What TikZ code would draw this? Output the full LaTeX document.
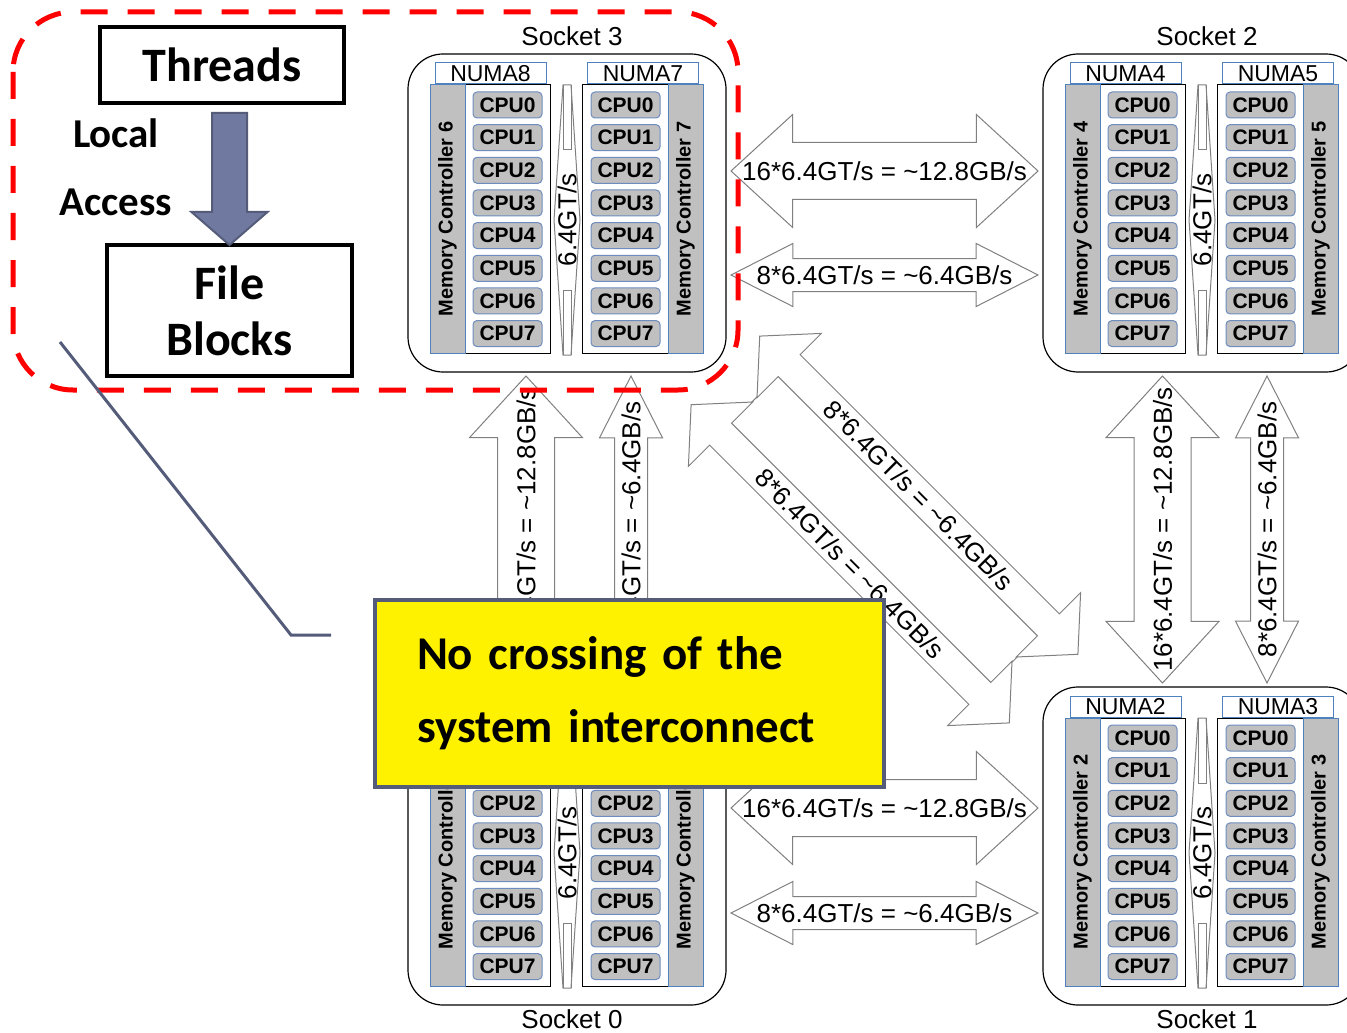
\documentclass[tikz,border=0pt]{standalone}
\usepackage{fontspec}
\setmainfont{Liberation Sans}
\newfontfamily\calibri{Carlito}
\usetikzlibrary{shapes.arrows,calc,positioning}

\definecolor{mcblue}{RGB}{79,129,189}
\definecolor{cpuedge}{RGB}{110,140,190}
\definecolor{boxgray}{RGB}{192,192,192}
\definecolor{linkgray}{RGB}{128,128,128}
\definecolor{slate}{RGB}{84,92,122}
\definecolor{slatefill}{RGB}{112,121,160}

\newcommand{\linkfont}{\fontsize{13}{13}\selectfont}

% one socket: two NUMA halves, each with a memory controller strip and 8 CPUs
% #1 name, #2 top left corner, #3 #4 NUMA labels, #5 #6 memory controller numbers
\newcommand{\drawsocket}[6]{%
  \begin{scope}[shift={#2}]
    \node[socketbox] (#1) at (159,159) {};
    % left half
    \node[halfbox] (#1-left) at (82,165) {};
    \node[numabox] (#1-numal) at (82.5,19.5) {#3};
    \node[mcstrip] (#1-mcl) at (39.5,165) {Memory Controller #5};
    \foreach \k in {0,...,7}
      \node[cpubox] (#1-l\k) at (99.5,{51+32.65*\k}) {CPU\k};
    % right half
    \node[halfbox] (#1-right) at (234.5,165) {};
    \node[numabox] (#1-numar) at (235,19.5) {#4};
    \node[mcstrip] (#1-mcr) at (277.5,165) {Memory Controller #6};
    \foreach \k in {0,...,7}
      \node[cpubox] (#1-r\k) at (217.5,{51+32.65*\k}) {CPU\k};
    % link between the two halves
    \draw[linkline, fill=white] (155,31) -- (146,166) -- (155,301) -- (163,301) -- (172,166) -- (163,31) -- cycle;
    \draw[linkline] (155,31) -- (155,96) -- (163,96) -- (163,31);
    \draw[linkline] (155,301) -- (155,236) -- (163,236) -- (163,301);
    \node[rotate=90, font=\linkfont, inner sep=0pt] (#1-qpi) at (159,166) {6.4GT/s};
  \end{scope}
}

\begin{document}
\begin{tikzpicture}[
    x=0.5pt, y=-0.5pt,
    socketbox/.style={draw, line width=0.6pt, rounded corners=17.5pt, minimum width=159pt, minimum height=159pt, inner sep=0pt},
    halfbox/.style={draw, line width=0.5pt, fill=white, minimum width=60pt, minimum height=134pt, inner sep=0pt},
    numabox/.style={draw=mcblue, line width=0.5pt, fill=white, minimum width=55.5pt, minimum height=10.5pt, inner sep=0pt, font=\fontsize{11.5}{11.5}\selectfont},
    mcstrip/.style={draw=mcblue, line width=0.5pt, fill=boxgray, rotate=90, minimum width=134pt, minimum height=17.5pt, inner sep=0pt, font=\bfseries\fontsize{10}{10}\selectfont},
    cpubox/.style={draw=cpuedge, line width=0.5pt, fill=boxgray, rounded corners=2pt, minimum width=34.5pt, minimum height=13pt, inner sep=0pt, font=\bfseries\fontsize{10.5}{10.5}\selectfont},
    linkline/.style={draw=linkgray, line width=0.5pt},
    % shaft half width = text height = text depth
    widelink/.style={double arrow, draw=linkgray, fill=white, line width=0.5pt, inner sep=0pt, text height=14pt, text depth=14pt, minimum height=153.5pt, minimum width=56pt, double arrow head extend=14pt, double arrow tip angle=85},
    narrowlink/.style={double arrow, draw=linkgray, fill=white, line width=0.5pt, inner sep=0pt, text height=8pt, text depth=8pt, minimum height=153.5pt, minimum width=31pt, double arrow head extend=7.5pt, double arrow tip angle=54},
    diaglink/.style={double arrow, draw=linkgray, fill=white, line width=0.5pt, inner sep=0pt, rotate=-45, text height=7.5pt, text depth=7.5pt, minimum height=225pt, minimum width=45pt, double arrow head extend=15pt, double arrow tip angle=95},
    diagband/.style={draw=linkgray, fill=white, line width=0.5pt, inner sep=0pt, rotate=-45, minimum width=184pt, minimum height=33.5pt},
    linklabel/.style={font=\linkfont, inner sep=0pt},
    socketlabel/.style={anchor=base, font=\fontsize{13}{13}\selectfont},
    taskbox/.style={draw, line width=2pt, inner sep=0pt, font=\calibri\bfseries\fontsize{24}{28}\selectfont},
    localzone/.style={draw=red, line width=2.5pt, dash pattern=on 13.5pt off 10pt, rounded corners=30pt},
    accessarrow/.style={draw=slate, fill=slatefill, line width=1pt},
    leader/.style={draw=slate, line width=1.5pt},
    note/.style={draw=slate, line width=2pt, fill=yellow, text width=212.5pt, inner xsep=21pt, minimum height=93.5pt, align=left, font=\calibri\bfseries\fontsize{23.5}{36.5}\selectfont},
]
    \useasboundingbox (0,0) rectangle (1347,1032);
    \fill[white] (0,0) rectangle (1347,1032);

    % Sockets
    \drawsocket{s3}{(408,54)}{NUMA8}{NUMA7}{6}{7}
    \drawsocket{s2}{(1043,54)}{NUMA4}{NUMA5}{4}{5}
    \drawsocket{s0}{(408,687)}{NUMA0}{NUMA1}{0}{1}
    \drawsocket{s1}{(1043,687)}{NUMA2}{NUMA3}{2}{3}

    \node[socketlabel] (s3-name) at ($(s3.north)+(5,-8)$) {Socket 3};
    \node[socketlabel] (s2-name) at ($(s2.north)+(5,-8)$) {Socket 2};
    \node[socketlabel] (s0-name) at ($(s0.south)+(5,23)$) {Socket 0};
    \node[socketlabel] (s1-name) at ($(s1.south)+(5,23)$) {Socket 1};

    % Links between sockets
    \node[widelink] (l32a) at ($(s3.east)!.5!(s2.west)+(0,-42)$) {};
    \node[narrowlink] (l32b) at ($(s3.east)!.5!(s2.west)+(0,62)$) {};
    \node[widelink] (l01a) at ($(s0.east)!.5!(s1.west)+(0,-38)$) {};
    \node[narrowlink] (l01b) at ($(s0.east)!.5!(s1.west)+(0,67)$) {};
    \node[widelink, rotate=90] (l30a) at ($(s3.south)!.5!(s0.north)+(-41,0)$) {};
    \node[narrowlink, rotate=90] (l30b) at ($(s3.south)!.5!(s0.north)+(64,0)$) {};
    \node[widelink, rotate=90] (l21a) at ($(s2.south)!.5!(s1.north)+(-39.5,0)$) {};
    \node[narrowlink, rotate=90] (l21b) at ($(s2.south)!.5!(s1.north)+(65,0)$) {};

    \node[linklabel] (t32a) at (l32a) {16*6.4GT/s = \textasciitilde12.8GB/s};
    \node[linklabel] (t32b) at (l32b) {8*6.4GT/s = \textasciitilde6.4GB/s};
    \node[linklabel] (t01a) at (l01a) {16*6.4GT/s = \textasciitilde12.8GB/s};
    \node[linklabel] (t01b) at (l01b) {8*6.4GT/s = \textasciitilde6.4GB/s};
    \node[linklabel, rotate=90] (t30a) at (l30a) {16*6.4GT/s = \textasciitilde12.8GB/s};
    \node[linklabel, rotate=90] (t30b) at (l30b) {8*6.4GT/s = \textasciitilde6.4GB/s};
    \node[linklabel, rotate=90] (t21a) at (l21a) {16*6.4GT/s = \textasciitilde12.8GB/s};
    \node[linklabel, rotate=90] (t21b) at (l21b) {8*6.4GT/s = \textasciitilde6.4GB/s};

    % Diagonal pair
    \coordinate (hub) at ($(s3.center)!.5!(s1.center)$);
    \node[diagband] (band) at (hub) {};
    \node[diaglink] (l31a) at ($(hub)+(34.3,-34.3)$) {};
    \node[diaglink] (l31b) at ($(hub)+(-34.3,34.3)$) {};
    \node[linklabel, rotate=-45] (t31a) at (l31a) {8*6.4GT/s = \textasciitilde6.4GB/s};
    \node[linklabel, rotate=-45] (t31b) at (l31b) {8*6.4GT/s = \textasciitilde6.4GB/s};

    % Local access inside one socket
    \draw[localzone] (13,12) rectangle (738,390);
    \node[taskbox, minimum width=122pt, minimum height=38pt] (threads) at (222,65) {Threads};
    \node[taskbox, minimum width=122.5pt, minimum height=65.5pt, align=center] (blocks) at (229.5,310.5) {File\\Blocks};
    \node[align=center, font=\calibri\bfseries\fontsize{20.5}{34}\selectfont] (access) at (116,167) {Local\\Access};
    \coordinate (acc-top) at ($(threads.south -| blocks.north)+(0,8)$);
    \draw[accessarrow] (acc-top) ++(-17.5,0) -- ++(35,0) -- ++(0,99) -- ++(20.5,0) -- ++(-38,33) -- ++(-38,-33) -- ++(20.5,0) -- cycle;

    % Note
    \node[note] (note) at (629.5,693.5) {No crossing of the\\system interconnect};
    \coordinate (lead-a) at (60,342);
    \coordinate (lead-b) at ($(note.west)+(-42,-58.5)$);
    \draw[leader] (lead-a) -- ++(231,293) -- (lead-b);
\end{tikzpicture}
\end{document}
